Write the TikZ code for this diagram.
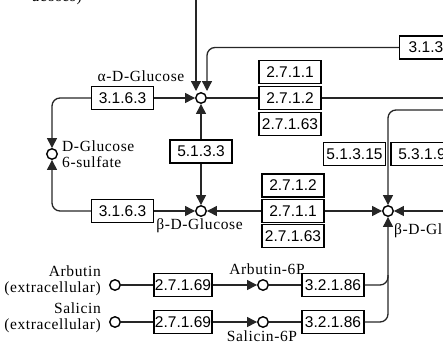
\documentclass[tikz,border=0pt]{standalone}
\usepackage{fontspec}
\setmainfont{Liberation Serif}
\newfontfamily\ecfont{Liberation Sans}
\newfontfamily\cpfont[LetterSpace=4]{Liberation Serif}
\usetikzlibrary{arrows.meta}
\begin{document}
\begin{tikzpicture}[x=1pt,y=-1pt,
  ec/.style={draw=black, line width=1.4pt, fill=white, minimum width=62pt, minimum height=23pt, inner sep=0pt, font=\ecfont\fontsize{15.5}{15.5}\selectfont},
  cpd/.style={circle, draw=black, line width=1.4pt, fill=white, minimum size=10.5pt, inner sep=0pt},
  lbl/.style={font=\cpfont\fontsize{15.5}{16}\selectfont, inner sep=0pt},
  ln/.style={line width=1.3pt, draw=black!85},
  arr/.style={ln, -{Triangle[length=10pt,width=10pt]}},
]
\useasboundingbox (0,0) rectangle (443,343);
\begin{scope}
\clip (0,0) rectangle (443,343);
% compounds
\node[cpd] (alpha) at (201,98) {};
\node[cpd] (beta) at (201,211) {};
\node[cpd] (betaR) at (388,211) {};
\node[cpd] (g6s) at (52,154) {};
\node[cpd] (arb) at (115,285) {};
\node[cpd] (sal) at (115,322) {};
\node[cpd] (arb6p) at (263,285) {};
\node[cpd] (sal6p) at (263,322) {};
% enzymes
\node[ec, anchor=west, text width=50pt, inner xsep=9pt, align=left] (e313) at (399,47.5) {3.1.3};
\node[ec] (e3163a) at (122.5,98) {3.1.6.3};
\node[ec] (e2711a) at (290,72) {2.7.1.1};
\node[ec] (e2712a) at (290,98) {2.7.1.2};
\node[ec] (e27163a) at (290,124) {2.7.1.63};
\node[ec] (e5133) at (201,151.5) {5.1.3.3};
\node[ec] (e51315) at (354.5,154) {5.1.3.15};
\node[ec] (e5319) at (422,154) {5.3.1.9};
\node[ec] (e3163b) at (122.5,211) {3.1.6.3};
\node[ec] (e2712b) at (293,185.5) {2.7.1.2};
\node[ec] (e2711b) at (293,211) {2.7.1.1};
\node[ec] (e27163b) at (293,236) {2.7.1.63};
\node[ec, minimum width=58pt] (e27169a) at (183,285) {2.7.1.69};
\node[ec] (e32186a) at (333,285) {3.2.1.86};
\node[ec, minimum width=58pt] (e27169b) at (183,322) {2.7.1.69};
\node[ec] (e32186b) at (333,322) {3.2.1.86};
% free ends
\coordinate (top1) at (196,0);
\coordinate (a1) at (196,91);
\coordinate (a2) at (207,91);
\coordinate (rightA) at (443,98);
\coordinate (rightB) at (443,211);
\coordinate (rightC) at (443,110);
\coordinate (j1) at (388,275);
% connectors
\draw[arr] (top1) -- (a1);
\draw[arr, rounded corners=8pt] (e313.west) -| (a2);
\draw[arr] (e3163a) -- (alpha);
\draw[arr, rounded corners=8pt] (e3163a) -| (g6s);
\draw[arr] (e3163b) -- (beta);
\draw[arr, rounded corners=8pt] (e3163b) -| (g6s);
\draw[arr] (e5133) -- (alpha);
\draw[arr] (e5133) -- (beta);
\draw[ln] (alpha) -- (e2712a);
\draw[ln] (e2712a) -- (rightA);
\draw[arr] (e2711b) -- (beta);
\draw[arr] (e2711b) -- (betaR);
\draw[arr] (rightB) -- (betaR);
\draw[arr, rounded corners=8pt] (rightC) -| (betaR);
\draw[ln] (arb) -- (e27169a);
\draw[arr] (e27169a) -- (arb6p);
\draw[ln] (arb6p) -- (e32186a);
\draw[ln, rounded corners=8pt] (e32186a) -| (j1);
\draw[ln] (sal) -- (e27169b);
\draw[arr] (e27169b) -- (sal6p);
\draw[ln] (sal6p) -- (e32186b);
\draw[arr, rounded corners=8pt] (e32186b) -| (betaR);
% labels
\node[lbl, anchor=base east] (ltop) at (82,1.5) {ucoses)};
\node[lbl] (lalpha) at (141,76) {α-D-Glucose};
\node[lbl, anchor=west, align=left] (lg6s) at (62,154) {D-Glucose\\6-sulfate};
\node[lbl] (lbeta) at (199.5,226) {β-D-Glucose};
\node[lbl, anchor=west] (lbetaR) at (394,231) {β-D-Glucose};
\node[lbl, anchor=east, align=right] (larb) at (101,281) {Arbutin\\(extracellular)};
\node[lbl, anchor=east, align=right] (lsal) at (101,318) {Salicin\\(extracellular)};
\node[lbl] (larb6p) at (267,269) {Arbutin-6P};
\node[lbl] (lsal6p) at (262,336) {Salicin-6P};
\end{scope}
\end{tikzpicture}
\end{document}
